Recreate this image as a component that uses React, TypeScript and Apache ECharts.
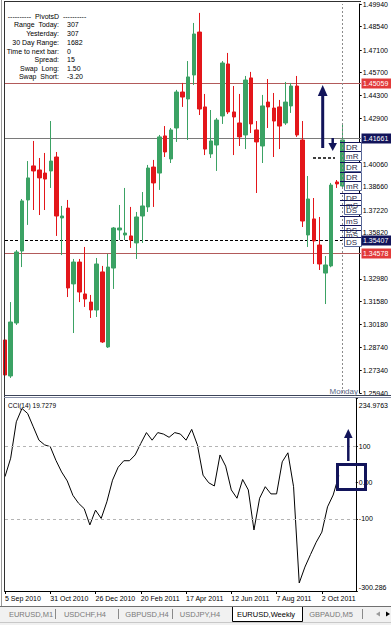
import React, { useEffect, useRef } from "react";
import * as echarts from "echarts";

const FONT = "'Liberation Sans', Arial, sans-serif";

const categories = [
  "5 Sep 2010", "12 Sep 2010", "19 Sep 2010", "26 Sep 2010", "3 Oct 2010", "10 Oct 2010", "17 Oct 2010", "24 Oct 2010",
  "31 Oct 2010", "7 Nov 2010", "14 Nov 2010", "21 Nov 2010", "28 Nov 2010", "5 Dec 2010", "12 Dec 2010", "19 Dec 2010",
  "26 Dec 2010", "2 Jan 2011", "9 Jan 2011", "16 Jan 2011", "23 Jan 2011", "30 Jan 2011", "6 Feb 2011", "13 Feb 2011",
  "20 Feb 2011", "27 Feb 2011", "6 Mar 2011", "13 Mar 2011", "20 Mar 2011", "27 Mar 2011", "3 Apr 2011", "10 Apr 2011",
  "17 Apr 2011", "24 Apr 2011", "1 May 2011", "8 May 2011", "15 May 2011", "22 May 2011", "29 May 2011", "5 Jun 2011",
  "12 Jun 2011", "19 Jun 2011", "26 Jun 2011", "3 Jul 2011", "10 Jul 2011", "17 Jul 2011", "24 Jul 2011", "31 Jul 2011",
  "7 Aug 2011", "14 Aug 2011", "21 Aug 2011", "28 Aug 2011", "4 Sep 2011", "11 Sep 2011", "18 Sep 2011", "25 Sep 2011",
  "2 Oct 2011", "9 Oct 2011", "16 Oct 2011", "23 Oct 2011", "30 Oct 2011", "6 Nov 2011", "13 Nov 2011",
];

// weekly EURUSD candles: [open, close, low, high]
const candles = [
  [1.2921, 1.2705, 1.2643, 1.2933],
  [1.2699, 1.3032, 1.2687, 1.3155],
  [1.3026, 1.3464, 1.3014, 1.3476],
  [1.3470, 1.3779, 1.3371, 1.3791],
  [1.3785, 1.3921, 1.3631, 1.4025],
  [1.3995, 1.3964, 1.3723, 1.4149],
  [1.3970, 1.3921, 1.3692, 1.4044],
  [1.3951, 1.3914, 1.3723, 1.4075],
  [1.3964, 1.4025, 1.3859, 1.4272],
  [1.4050, 1.3686, 1.3563, 1.4081],
  [1.3674, 1.3686, 1.3445, 1.3748],
  [1.3735, 1.3242, 1.3186, 1.3785],
  [1.3267, 1.3402, 1.2964, 1.3421],
  [1.3402, 1.3217, 1.3155, 1.3421],
  [1.3205, 1.3174, 1.3125, 1.3495],
  [1.3155, 1.3106, 1.3057, 1.3199],
  [1.3106, 1.3390, 1.3063, 1.3427],
  [1.3341, 1.2909, 1.2903, 1.3378],
  [1.2878, 1.3371, 1.2872, 1.3452],
  [1.3365, 1.3612, 1.3236, 1.3618],
  [1.3600, 1.3612, 1.3538, 1.3754],
  [1.3569, 1.3581, 1.3538, 1.3859],
  [1.3563, 1.3538, 1.3489, 1.3742],
  [1.3520, 1.3680, 1.3421, 1.3711],
  [1.3686, 1.3748, 1.3520, 1.3834],
  [1.3742, 1.3982, 1.3711, 1.4001],
  [1.3988, 1.3890, 1.3742, 1.4032],
  [1.3951, 1.4174, 1.3847, 1.4186],
  [1.4180, 1.4081, 1.4050, 1.4241],
  [1.4038, 1.4217, 1.4013, 1.4229],
  [1.4229, 1.4451, 1.4143, 1.4464],
  [1.4451, 1.4420, 1.4359, 1.4507],
  [1.4408, 1.4544, 1.4155, 1.4642],
  [1.4556, 1.4809, 1.4494, 1.4877],
  [1.4821, 1.4346, 1.4309, 1.4939],
  [1.4359, 1.4099, 1.4062, 1.4439],
  [1.4069, 1.4149, 1.4044, 1.4340],
  [1.4124, 1.4278, 1.3964, 1.4291],
  [1.4303, 1.4630, 1.4254, 1.4642],
  [1.4624, 1.4328, 1.4315, 1.4692],
  [1.4328, 1.4297, 1.4062, 1.4488],
  [1.4260, 1.4174, 1.4118, 1.4439],
  [1.4186, 1.4525, 1.4099, 1.4550],
  [1.4538, 1.4254, 1.4198, 1.4575],
  [1.4217, 1.4143, 1.3828, 1.4272],
  [1.4118, 1.4365, 1.4013, 1.4433],
  [1.4389, 1.4359, 1.4229, 1.4531],
  [1.4352, 1.4272, 1.4050, 1.4445],
  [1.4359, 1.4241, 1.4099, 1.4402],
  [1.4260, 1.4389, 1.4248, 1.4513],
  [1.4365, 1.4488, 1.4322, 1.4507],
  [1.4488, 1.4186, 1.4174, 1.4550],
  [1.4155, 1.3655, 1.3618, 1.4272],
  [1.3569, 1.3791, 1.3495, 1.3933],
  [1.3668, 1.3532, 1.3390, 1.3797],
  [1.3507, 1.3390, 1.3353, 1.3680],
  [1.3334, 1.3384, 1.3143, 1.3439],
  [1.3378, 1.3877, 1.3370, 1.3890],
  [1.3896, 1.3884, 1.3859, 1.3908],
  [1.3871, 1.4155, 1.3859, 1.4254],
];

const cciValues = [
  17, 68, 169, 206, 192, 155, 118, 105, 100, 62,
  30, 5, -35, -57, -72, -117, -76, -99, -53, 7,
  43, 61, 61, 77, 109, 139, 118, 139, 135, 126,
  139, 135, 118, 148, 105, 21, 0, -9, 77, 46,
  -20, -43, 9, -20, -131, -43, -11, -31, -31, 58,
  83, -11, -278, -234, -199, -165, -137, -67, -34, 19.7279,
];

const priceTicks = [1.4994, 1.4854, 1.471, 1.457, 1.443, 1.429, 1.4006, 1.3866, 1.3722, 1.3582, 1.3298, 1.3158, 1.3018, 1.2874, 1.2734, 1.2594];
const priceMin = 1.2594;
const priceMax = 1.4994;

const cciTicks = [234.9763, 100, 0, -100, -300.286];
const cciTickLabels = ["{t|234.9763}", "100", "0.00", "-100", "{b|-300.286}"];
const cciMin = -300.286;
const cciMax = 234.9763;
const cciLevels = [100, -100];

const priceLineValues = [1.45059, 1.41661, 1.35407, 1.34578];
const priceLineKinds = ["red", "gray", "dash", "red"];

const pivotNames = ["DR", "mR", "DR", "DR", "mR", "DP", "mS", "DS", "mS", "DS", "mS", "DS"];
const pivotPrices = [1.4143, 1.4087, 1.4019, 1.3958, 1.3902, 1.3828, 1.3785, 1.3754, 1.3686, 1.3631, 1.36, 1.3557];

const infoLabels = ["Range  Today:", "Yesterday:", "30 Day Range:", "Time to next bar:", "Spread:", "Swap  Long:", "Swap  Short:"];
const infoValues = ["307", "307", "1682", "0", "15", "1.50", "-3.20"];

const tabNames = ["EURUSD,M1", "USDCHF,H4", "GBPUSD,H4", "USDJPY,H4", "EURUSD,Weekly", "GBPAUD,M5"];
const activeTab = 4;
const currentBar = 59;

const NAVY = "#12145a";

function txt(x: number, y: number, text: string, o: any = {}) {
  return {
    type: "text",
    x,
    y,
    z: o.z ?? 60,
    style: {
      text,
      fill: o.fill ?? "#000",
      fontSize: o.size ?? 7,
      fontFamily: FONT,
      align: o.align ?? "left",
      verticalAlign: "middle",
    },
  };
}
function ln(x1: number, y1: number, x2: number, y2: number, stroke: string, lineWidth = 1, lineDash?: number[], z = 55) {
  return { type: "line", z, shape: { x1, y1, x2, y2 }, style: { stroke, lineWidth, lineDash } };
}
function poly(points: number[][], fill: string) {
  return { type: "polygon", z: 56, shape: { points }, style: { fill } };
}

export default function App() {
  const ref = useRef<HTMLDivElement>(null);
  useEffect(() => {
    if (!ref.current) return;
    const chart = echarts.init(ref.current, null, { renderer: "svg" });

    const option: any = {
      animation: false,
      backgroundColor: "#fff",
      textStyle: { fontFamily: FONT },
      grid: [
        { left: 5, top: 4, width: 356, height: 389 },
        { left: 5, top: 398, width: 356, height: 193 },
      ],
      xAxis: [
        {
          type: "category",
          gridIndex: 0,
          data: categories,
          boundaryGap: false,
          axisLine: { show: false, onZero: false },
          axisTick: { show: false },
          axisLabel: { show: false },
          splitLine: { show: false },
        },
        {
          type: "category",
          gridIndex: 1,
          data: categories,
          boundaryGap: false,
          axisLine: { show: true, onZero: false, lineStyle: { color: "#000" } },
          axisTick: { show: true, interval: 7, length: 3, lineStyle: { color: "#000" } },
          axisLabel: {
            show: true,
            interval: 7,
            align: "left",
            fontSize: 7,
            fontFamily: FONT,
            color: "#000",
            margin: 4,
          },
          splitLine: { show: false },
        },
      ],
      yAxis: [
        {
          type: "value",
          gridIndex: 0,
          position: "right",
          min: priceMin,
          max: priceMax,
          axisLine: { show: true, lineStyle: { color: "#000" } },
          axisTick: { show: true, customValues: priceTicks, length: 2, lineStyle: { color: "#000" } },
          axisLabel: {
            customValues: priceTicks,
            formatter: (v: number) => v.toFixed(5),
            fontSize: 7,
            fontFamily: FONT,
            color: "#000",
            margin: 3,
          },
          splitLine: { show: false },
        },
        {
          type: "value",
          gridIndex: 1,
          position: "right",
          min: cciMin,
          max: cciMax,
          axisLine: { show: true, lineStyle: { color: "#000" } },
          axisTick: { show: true, customValues: cciTicks, length: 2, lineStyle: { color: "#000" } },
          axisLabel: {
            customValues: cciTicks,
            formatter: (v: number) => {
              const i = cciTicks.findIndex((t) => Math.abs(t - v) < 1e-6);
              return i >= 0 ? cciTickLabels[i] : "";
            },
            fontSize: 7,
            fontFamily: FONT,
            color: "#000",
            margin: 3,
            rich: {
              t: { fontSize: 7, fontFamily: FONT, color: "#000", padding: [14, 0, 0, 0] },
              b: { fontSize: 7, fontFamily: FONT, color: "#000", padding: [0, 0, 8, 0] },
            },
          },
          splitLine: { show: false },
        },
      ],
      series: [
        {
          type: "candlestick",
          xAxisIndex: 0,
          yAxisIndex: 0,
          data: candles,
          barWidth: 4,
          z: 3,
          itemStyle: {
            color: "#3ba264",
            color0: "#e3161a",
            borderColor: "#3ba264",
            borderColor0: "#e3161a",
            borderWidth: 1,
          },
          markLine: {
            silent: true,
            symbol: ["none", "none"],
            label: { show: false },
            lineStyle: { color: "#8c8c8c", width: 1, type: [2, 2] },
            data: [{ xAxis: categories[currentBar] }],
          },
        },
        {
          type: "line",
          xAxisIndex: 1,
          yAxisIndex: 1,
          data: cciValues,
          symbol: "none",
          lineStyle: { color: "#000", width: 1 },
          markLine: {
            silent: true,
            symbol: ["none", "none"],
            label: { show: false },
            lineStyle: { color: "#b4b4b4", width: 1, type: [3, 3] },
            data: cciLevels.map((v) => ({ yAxis: v })),
          },
        },
      ],
    };
    chart.setOption(option);

    const yPix = (p: number) => chart.convertToPixel({ yAxisIndex: 0 }, p) as number;

    const els: any[] = [];
    // frame
    els.push(ln(1.5, 0, 1.5, 606, "#9a9a9a"));
    els.push(ln(4.5, 1, 4.5, 592, "#303030"));
    els.push(ln(4, 1.5, 361, 1.5, "#303030"));
    els.push(ln(4, 395.5, 391, 395.5, "#3c4458"));
    els.push(ln(4, 397.5, 391, 397.5, "#8890a8"));

    // horizontal price lines with their axis tags
    priceLineValues.forEach((v, i) => {
      const k = priceLineKinds[i];
      const y = Math.round(yPix(v)) + 0.5;
      const stroke = k === "red" ? "#b25a5a" : k === "gray" ? "#7a7a7a" : "#000";
      els.push(ln(5, y, 361, y, stroke, 1, k === "dash" ? [3, 2] : undefined, 2));
      els.push({
        type: "rect",
        z: 59,
        shape: { x: 361.5, y: y - 5, width: 30, height: 10 },
        style: { fill: k === "red" ? "#e23a3a" : NAVY },
      });
      els.push(txt(363, y, v.toFixed(5), { fill: "#fff", z: 61 }));
    });

    // PivotsD info box
    els.push(txt(47, 16, "----------  PivotsD  ----------", { align: "center" }));
    const rowY = [24, 33, 42, 51, 59, 68, 76];
    infoLabels.forEach((l, i) => {
      els.push(txt(59, rowY[i], l, { align: "right" }));
      els.push(txt(67, rowY[i], infoValues[i]));
    });

    // pivot level boxes
    pivotNames.forEach((n, i) => {
      const y = Math.round(yPix(pivotPrices[i])) + 0.5;
      els.push({
        type: "rect",
        z: 57,
        shape: { x: 344.5, y, width: 17, height: 9 },
        style: { fill: "#fff", stroke: "#5a6a9a", lineWidth: 1 },
      });
      els.push(ln(340, y, 361, y, NAVY, 1, undefined, 57));
      els.push(txt(346, y + 5, n, { size: 8, fill: "#2a2a48", z: 58 }));
    });

    // annotations in price panel
    els.push(ln(322.7, 148, 322.7, 94, NAVY, 3));
    els.push(poly([[317.8, 96], [322.7, 85], [327.6, 96]], NAVY));
    els.push(ln(332.7, 138, 332.7, 145, NAVY, 2.5));
    els.push(poly([[328.4, 143], [337, 143], [332.7, 151]], NAVY));
    els.push(ln(313, 158, 335, 158, "#000", 1.5, [3, 2]));
    els.push(txt(358, 391, "Monday", { align: "right", size: 8, fill: "#5a6886" }));

    // CCI panel
    els.push(txt(8, 405, "CCI(14) 19.7279", { size: 6.5 }));
    els.push({
      type: "rect",
      z: 57,
      shape: { x: 337.5, y: 464.5, width: 28, height: 25 },
      style: { fill: "none", stroke: NAVY, lineWidth: 3 },
    });
    els.push(ln(348.3, 461, 348.3, 437, NAVY, 2.5));
    els.push(poly([[344, 438], [348.3, 429], [352.6, 438]], NAVY));

    // tab bar
    els.push({ type: "rect", z: 50, shape: { x: 0, y: 606, width: 391, height: 19 }, style: { fill: "#f1f1f1" } });
    els.push(ln(0, 606.5, 391, 606.5, "#707070"));
    els.push(ln(0, 622.5, 391, 622.5, "#c8c8c8"));
    els.push({
      type: "rect",
      z: 52,
      shape: { x: 232.5, y: 606.5, width: 70, height: 15 },
      style: { fill: "#fff", stroke: "#000", lineWidth: 1 },
    });
    const tabX = [31, 85, 147, 200, 266, 331];
    tabNames.forEach((t, i) => {
      els.push(txt(tabX[i], 614, t, { align: "center", size: 7.5, fill: i === activeTab ? "#000" : "#7a7a7a" }));
    });
    [55, 118, 172, 362].forEach((x) => els.push(ln(x + 0.5, 609, x + 0.5, 619, "#8a8a8a")));
    els.push(poly([[376, 614], [380, 611.5], [380, 616.5]], "#9a9a9a"));
    els.push(poly([[386, 611.5], [390, 614], [386, 616.5]], "#000"));

    chart.setOption({ graphic: els });

    return () => chart.dispose();
  }, []);

  return (
    <div
      ref={ref}
      style={{ position: "fixed", left: 0, top: 0, width: 391, height: 625, background: "#fff" }}
    />
  );
}
